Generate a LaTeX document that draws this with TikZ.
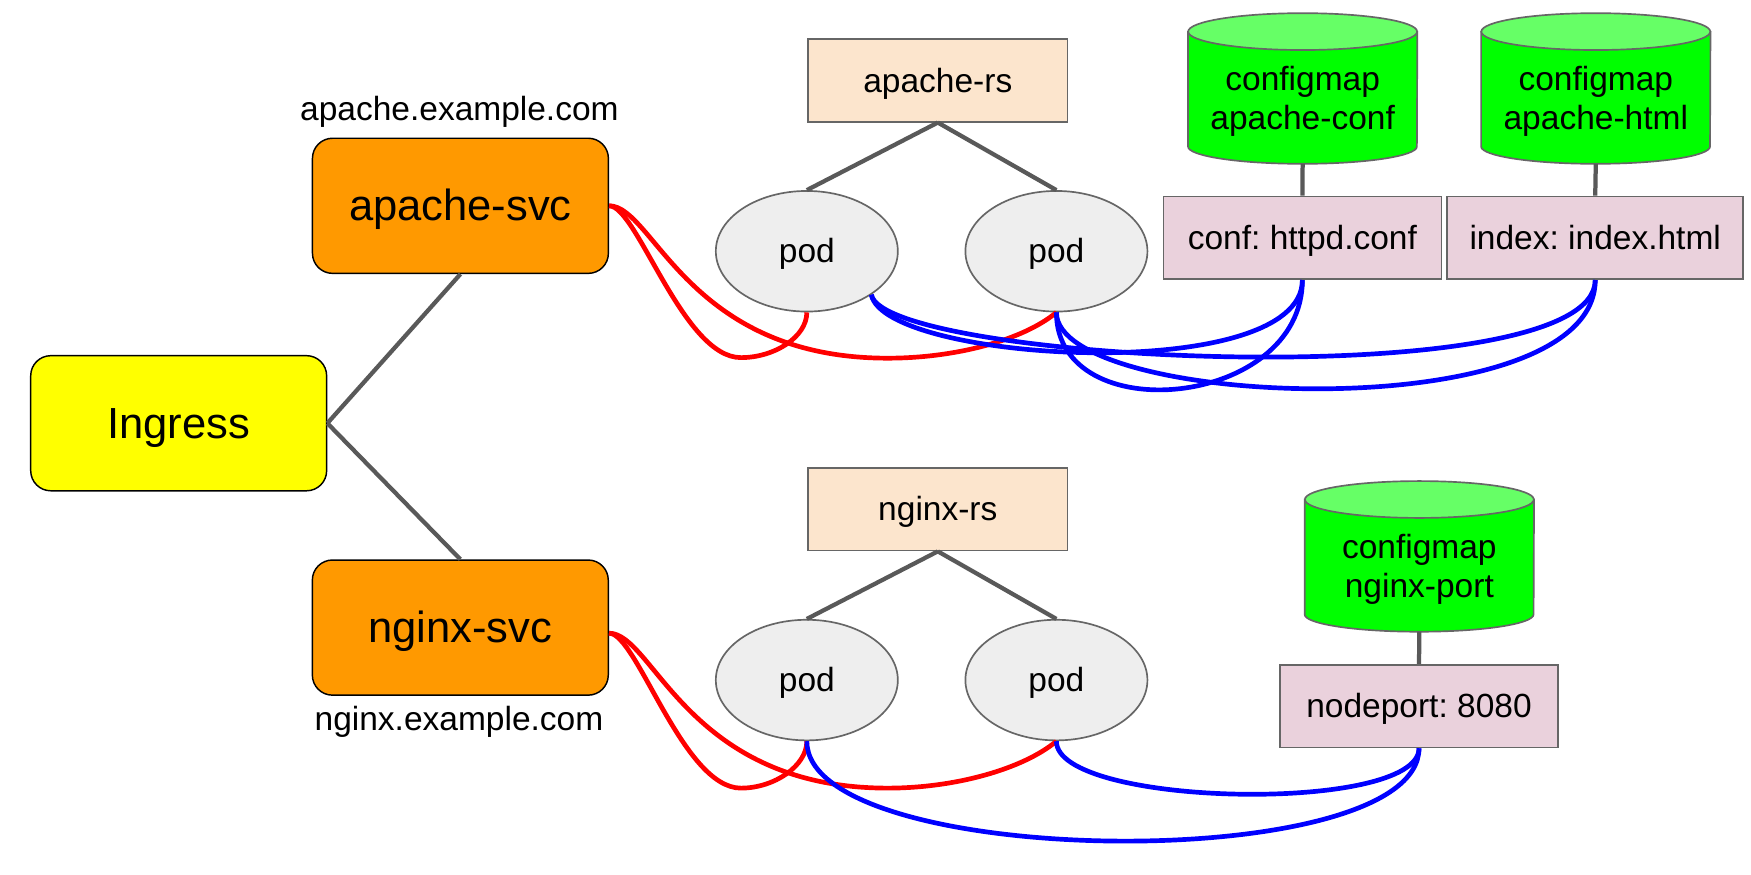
\documentclass[tikz,border=0pt]{standalone}
\usepackage{fontspec}
\setmainfont{Liberation Sans}
\usetikzlibrary{shapes.geometric,calc}
\definecolor{ingY}{HTML}{FFFF00}
\definecolor{svcO}{HTML}{FF9900}
\definecolor{rsP}{HTML}{FCE5CD}
\definecolor{podG}{HTML}{EEEEEE}
\definecolor{keyP}{HTML}{EAD1DC}
\definecolor{edgeG}{HTML}{666666}
\definecolor{lineG}{HTML}{595959}
\definecolor{cmBody}{HTML}{00FF00}
\definecolor{cmTop}{HTML}{66FF66}
\definecolor{redL}{HTML}{FF0000}
\definecolor{blueL}{HTML}{0000FF}
\pgfdeclarelayer{bg}
\pgfsetlayers{bg,main}
\frenchspacing
\newcommand{\cmstrut}{\rule{0pt}{28.5pt}}
\tikzset{
  bigfont/.style={font=\fontsize{39}{46}\selectfont, text height=35.3pt, text depth=8.27pt},
  smallfont/.style={font=\fontsize{30}{35}\selectfont, text height=27.15pt, text depth=6.36pt},
  bigbox/.style={rectangle, rounded corners=18pt, draw=black, line width=1.3pt,
    minimum width=265pt, minimum height=121pt, inner sep=0pt, bigfont},
  svcbox/.style={bigbox, fill=svcO},
  rsbox/.style={rectangle, draw=edgeG, line width=1.5pt, fill=rsP,
    minimum width=232pt, minimum height=74pt, inner sep=0pt, smallfont},
  podnode/.style={ellipse, draw=edgeG, line width=1.5pt, fill=podG,
    minimum width=163pt, minimum height=108pt, inner sep=0pt, smallfont},
  keybox/.style={rectangle, draw=edgeG, line width=1.5pt, fill=keyP,
    minimum height=74pt, inner sep=0pt, smallfont},
  cmnode/.style={rectangle, minimum width=205pt, minimum height=118pt,
    inner sep=0pt, align=center, font=\fontsize{30}{35}\selectfont},
  domlabel/.style={anchor=base, inner sep=0pt, font=\fontsize{30}{35}\selectfont},
  graylink/.style={draw=lineG, line width=3.8pt},
  redlink/.style={draw=redL, line width=4.2pt},
  bluelink/.style={draw=blueL, line width=4.2pt},
  cylbody/.style={fill=cmBody, draw=edgeG, line width=1.5pt},
  cyltop/.style={fill=cmTop, draw=edgeG, line width=1.5pt},
}
\begin{document}
\begin{tikzpicture}[x=1pt,y=1pt]
\useasboundingbox (0,0) rectangle (1568,-783);

% nodes
\node[bigbox, fill=ingY] (ingress) at (160,-379) {Ingress};
\node[svcbox] (apsvc) at (412.3,-184.3) {apache-svc};
\node[svcbox] (ngsvc) at (412.2,-562) {nginx-svc};
\node[domlabel] (aplabel) at (411.4,-108) {apache.example.com};
\node[domlabel] (nglabel) at (411,-654.3) {nginx.example.com};

\node[rsbox] (aprs) at (839.8,-72) {apache-rs};
\node[rsbox] (ngrs) at (839.8,-456) {nginx-rs};
\node[podnode] (appod1) at (722.5,-225) {pod};
\node[podnode] (appod2) at (946,-225) {pod};
\node[podnode] (ngpod1) at (722.5,-609) {pod};
\node[podnode] (ngpod2) at (946,-609) {pod};

\node[cmnode] (cmconf) at (1166.5,-87.5) {\cmstrut configmap\\apache-conf};
\node[cmnode] (cmhtml) at (1429,-87.5) {\cmstrut configmap\\apache-html};
\node[cmnode] (cmport) at (1271,-506.5) {\cmstrut configmap\\nginx-port};
\node[keybox, minimum width=249pt] (confkey) at (1166.25,-213) {conf: httpd.conf};
\node[keybox, minimum width=265pt] (indexkey) at (1428.5,-213) {index: index.html};
\node[keybox, minimum width=249pt] (portkey) at (1270.7,-632.3) {nodeport: 8080};

% cylinders behind the configmap texts
\begin{pgfonlayer}{bg}
\fill[white] (0,0) rectangle (1568,-783);
\foreach \n in {cmconf,cmhtml,cmport}{
  \path[cylbody] (\n.north west) -- ($(\n.south west)+(0,15.5)$)
    arc[start angle=180, end angle=360, x radius=102.5pt, y radius=15.5pt]
    -- (\n.north east) -- cycle;
  \path[cyltop] (\n.north) ellipse[x radius=102.5pt, y radius=16.5pt];
}
\end{pgfonlayer}

% gray connectors
\draw[graylink] (ingress.east) -- (apsvc.south);
\draw[graylink] (ingress.east) -- (ngsvc.north);
\draw[graylink] (aprs.south) -- (appod1.north);
\draw[graylink] (aprs.south) -- (appod2.north);
\draw[graylink] (ngrs.south) -- (ngpod1.north);
\draw[graylink] (ngrs.south) -- (ngpod2.north);
\draw[graylink] (cmconf.south) -- (confkey.north);
\draw[graylink] (cmhtml.south) -- (indexkey.north);
\draw[graylink] (cmport.south) -- (portkey.north);

% red: services to pods
\draw[redlink] (apsvc.east) .. controls +(25,0) and +(-52,0) .. ($(appod1.south)+(-59,-40.5)$)
  .. controls +(30,0) and +(0,-22) .. (appod1.south);
\draw[redlink] (apsvc.east) .. controls +(40,0) and +(-180,0) .. ($(appod2.south)+(-151,-41)$)
  .. controls +(60,0) and +(-30,-25) .. (appod2.south);
\draw[redlink] ($(ngsvc.east)+(0,-5)$) .. controls +(25,0) and +(-52,0) .. ($(ngpod1.south)+(-59,-42)$)
  .. controls +(30,0) and +(0,-22) .. (ngpod1.south);
\draw[redlink] ($(ngsvc.east)+(0,-5)$) .. controls +(40,0) and +(-180,0) .. ($(ngpod2.south)+(-151,-42)$)
  .. controls +(60,0) and +(-30,-25) .. (ngpod2.south);

% blue: pods to config keys
\draw[bluelink] (appod1.-34.4) .. controls +(12,-61) and +(0,-95) .. (confkey.south);
\draw[bluelink] (appod1.-34.4) .. controls +(12,-61) and +(0,-105) .. (indexkey.south);
\draw[bluelink] (appod2.south) .. controls +(0,-106) and +(0,-115) .. (confkey.south);
\draw[bluelink] (appod2.south) .. controls +(0,-86) and +(0,-135) .. (indexkey.south);
\draw[bluelink] (ngpod1.south) .. controls +(0,-115) and +(0,-115) .. (portkey.south);
\draw[bluelink] (ngpod2.south) .. controls +(0,-59) and +(0,-59) .. (portkey.south);
\end{tikzpicture}
\end{document}
